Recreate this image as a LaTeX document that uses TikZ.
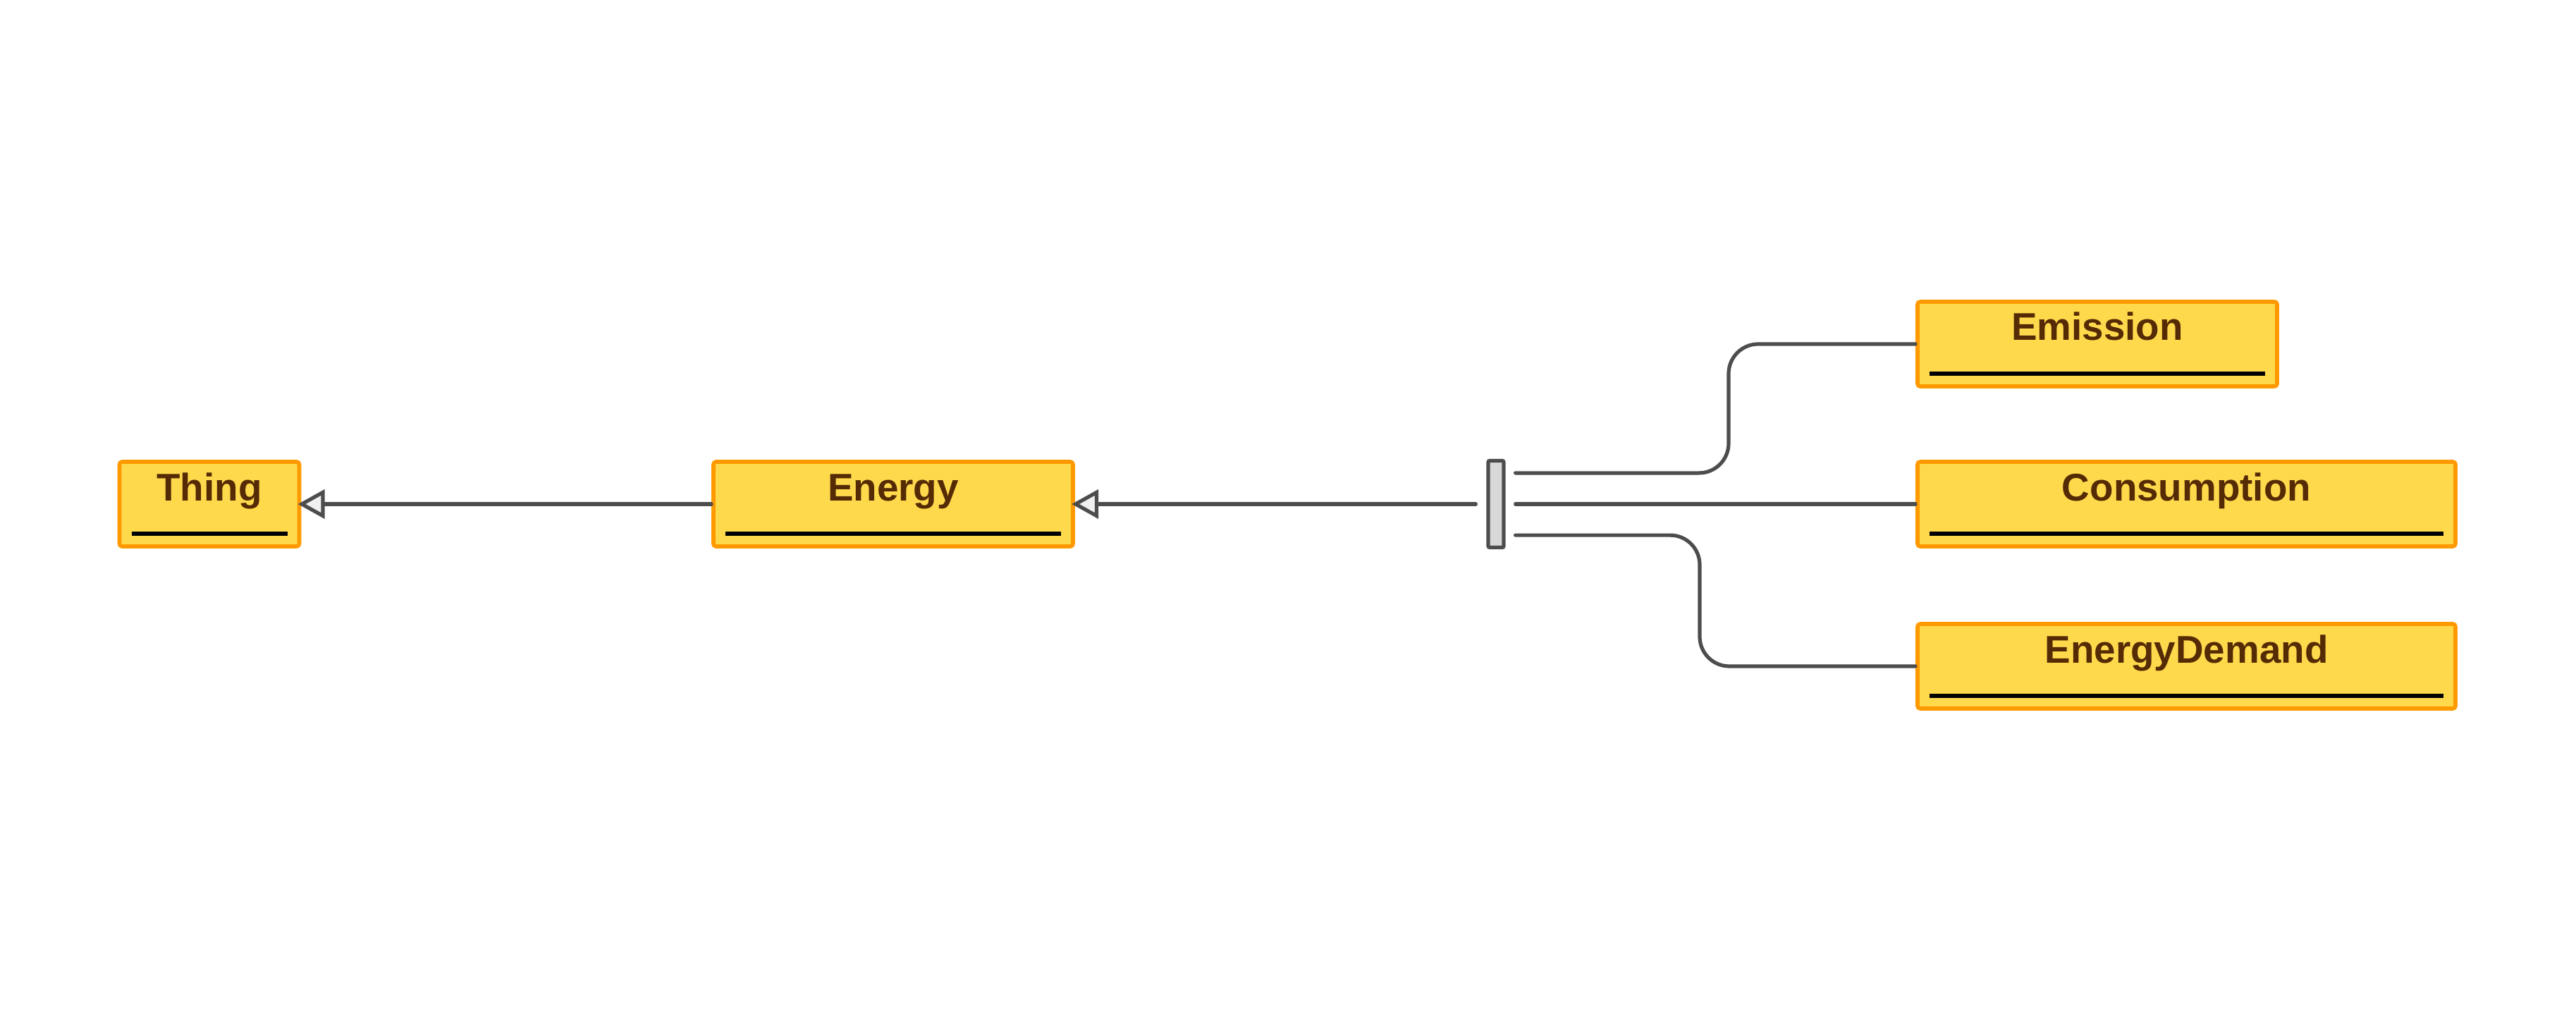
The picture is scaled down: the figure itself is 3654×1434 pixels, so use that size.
\documentclass[tikz,border=0pt]{standalone}
\usepackage{fontspec}
\setmainfont{Liberation Sans}
\usetikzlibrary{arrows.meta, positioning}

\definecolor{boxfill}{HTML}{FFD94C}
\definecolor{boxline}{HTML}{FF9900}
\definecolor{boxtext}{HTML}{552B05}
\definecolor{linkgray}{HTML}{4D4D4D}
\definecolor{barfill}{HTML}{D8D8D8}
\definecolor{tipfill}{HTML}{F0F0F0}

\tikzset{
  classbox/.style={draw=boxline, fill=boxfill, line width=1.45pt, rounded corners=1pt,
    inner xsep=0pt, inner ysep=0pt, text height=13.75pt, text depth=16.25pt, minimum height=30pt,
    font=\fontsize{13.7}{16}\selectfont\bfseries, text=boxtext,
    path picture={\draw[black, line width=1.35pt, sharp corners]
      ([xshift=4.25pt,yshift=4.5pt]path picture bounding box.south west) --
      ([xshift=-4.25pt,yshift=4.5pt]path picture bounding box.south east);}},
  link/.style={draw=linkgray, line width=1.3pt, line cap=round},
  isa/.style={link, shorten >=-1.2pt, -{Triangle[length=9.5pt, width=10.2pt, fill=tipfill]}},
  forkbar/.style={draw=linkgray, fill=barfill, line width=1.3pt, minimum width=5.5pt,
    minimum height=30.75pt, inner sep=0pt, rounded corners=0.5pt}
}

\begin{document}
\begin{tikzpicture}[x=0.25pt,y=-0.25pt]
\useasboundingbox (0,0) rectangle (3654,1434);

% les classes
\node[classbox, minimum width=63.75pt] (thing) at (297,715) {Thing};
\node[classbox, minimum width=127.5pt] (energy) at (1267,715) {Energy};
\node[forkbar] (fork) at (2122,715) {};
\node[classbox, minimum width=127.5pt] (emission) at (2975,488) {Emission};
\node[classbox, minimum width=190.75pt] (consumption) at (3101.5,715) {Consumption};
\node[classbox, minimum width=190.75pt] (demand) at (3101.5,945) {EnergyDemand};

\coordinate (upturn) at (2452,0);
\coordinate (downturn) at (2411,0);

% les liens
\draw[isa] (energy.west) -- (thing.east);
\draw[isa, shorten <=3.75pt] (fork.west) -- (energy.east);
\draw[link, shorten <=3.5pt] (fork.east) -- (consumption.west);
\draw[link, rounded corners=10.5pt] ([xshift=3.5pt,yshift=-5pt]fork.north east)
  -| (upturn |- emission.west) -- (emission.west);
\draw[link, rounded corners=10.5pt] ([xshift=3.5pt,yshift=5pt]fork.south east)
  -| (downturn |- demand.west) -- (demand.west);
\end{tikzpicture}
\end{document}
